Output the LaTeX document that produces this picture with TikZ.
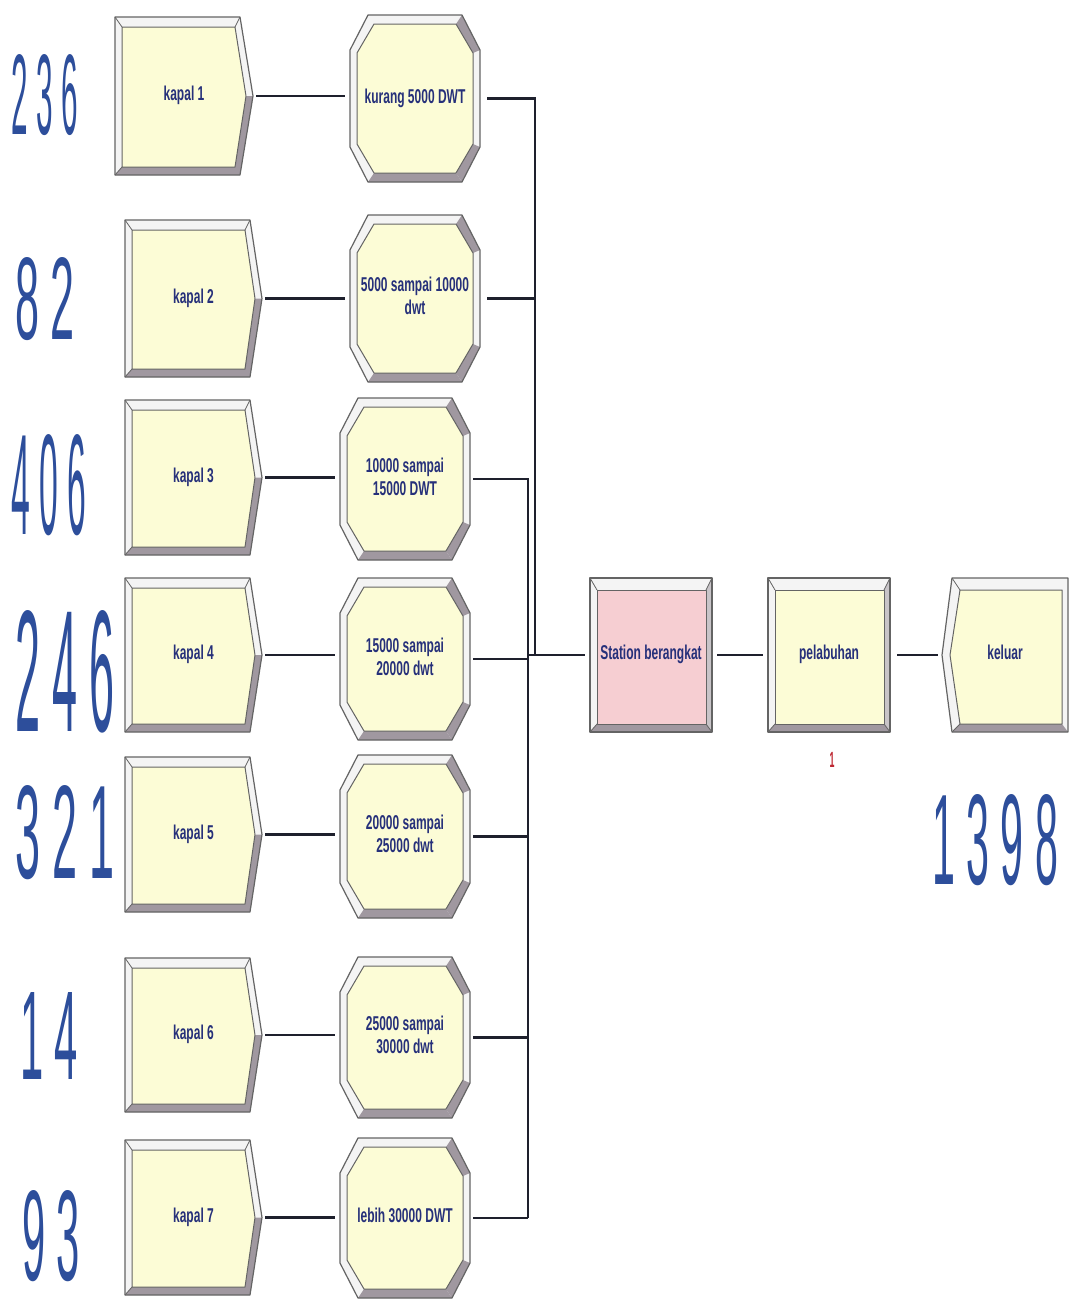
\documentclass[tikz,border=0pt]{standalone}
\usepackage{fontspec}
\setmainfont{Liberation Sans}
\usepackage{graphicx}
\usetikzlibrary{calc}

\definecolor{boxfill}{RGB}{252,252,214}
\definecolor{pinkfill}{RGB}{246,206,210}
\definecolor{bevlightc}{RGB}{244,244,244}
\definecolor{bevmidc}{RGB}{200,196,200}
\definecolor{bevdarkc}{RGB}{160,152,160}
\definecolor{outlinec}{RGB}{100,100,100}
\definecolor{txtc}{RGB}{38,48,122}
\definecolor{numc}{RGB}{45,78,155}
\definecolor{linec}{RGB}{30,32,45}
\definecolor{redc}{RGB}{190,40,50}

\tikzset{
  outline/.style={draw=outlinec, line width=1.2pt, line join=round},
  thinline/.style={draw=outlinec, line width=0.8pt},
  bevlight/.style={fill=bevlightc},
  bevmid/.style={fill=bevmidc},
  bevdark/.style={fill=bevdarkc},
  innerface/.style={draw=outlinec, line width=1pt, line join=round},
  holder/.style={inner sep=0pt, outer sep=0pt, draw=none, text=txtc,
    font=\fontsize{20}{23}\selectfont\bfseries},
  conn/.style={draw=linec, line width=2.2pt},
  count/.style={inner sep=0pt, outer sep=0pt, text=numc, font=\fontsize{100}{100}\selectfont},
  redlbl/.style={inner sep=0pt, text=redc, font=\fontsize{22}{22}\selectfont\bfseries},
}

\newcommand\lbl[1]{\scalebox{0.6}[1]{\begin{tabular}{@{}c@{}}#1\end{tabular}}}

% create module: name, L, T, R, B, tip, text
\newcommand\kapalmod[7]{%
  \fill[bevlight] (#2,#3) -- (#4,#3) -- (#6,{(#3+#5)/2}) -- (#4,#5) -- (#2,#5) -- cycle;
  \fill[bevdark] (#2,#5) -- (#4,#5) -- (#6,{(#3+#5)/2}) -- ({#6-7},{(#3+#5)/2}) -- ({#4-5},{#5-8}) -- ({#2+7},{#5-8}) -- cycle;
  \filldraw[innerface, fill=boxfill] ({#2+7},{#3+10}) -- ({#4-5},{#3+10}) -- ({#6-7},{(#3+#5)/2}) -- ({#4-5},{#5-8}) -- ({#2+7},{#5-8}) -- cycle;
  \draw[outline] (#2,#3) -- (#4,#3) -- (#6,{(#3+#5)/2}) -- (#4,#5) -- (#2,#5) -- cycle;
  \draw[thinline] (#2,#3) -- ({#2+7},{#3+10}) (#2,#5) -- ({#2+7},{#5-8}) (#4,#3) -- ({#4-5},{#3+10});
  \node[holder, minimum width={#6-#2}, minimum height={#5-#3}] (#1) at ({(#2+#6)/2},{(#3+#5)/2}) {\lbl{#7}};
}

% decide module: name, L, T, R, B, text
\newcommand\decidemod[6]{%
  \fill[bevlight] ({#2+18},#3) -- ({#4-18},#3) -- (#4,{#3+35}) -- (#4,{#5-35}) -- ({#4-18},#5) -- ({#2+18},#5) -- (#2,{#5-35}) -- (#2,{#3+35}) -- cycle;
  \fill[bevdark] ({#2+18},#5) -- ({#4-18},#5) -- ({#4-24},{#5-9}) -- ({#2+24},{#5-9}) -- cycle;
  \fill[bevdark] ({#4-18},#3) -- (#4,{#3+35}) -- ({#4-7},{#3+38}) -- ({#4-24},{#3+9}) -- cycle;
  \fill[bevdark] (#4,{#5-35}) -- ({#4-18},#5) -- ({#4-24},{#5-9}) -- ({#4-7},{#5-38}) -- cycle;
  \filldraw[innerface, fill=boxfill] ({#2+24},{#3+9}) -- ({#4-24},{#3+9}) -- ({#4-7},{#3+38}) -- ({#4-7},{#5-38}) -- ({#4-24},{#5-9}) -- ({#2+24},{#5-9}) -- ({#2+7},{#5-38}) -- ({#2+7},{#3+38}) -- cycle;
  \draw[outline] ({#2+18},#3) -- ({#4-18},#3) -- (#4,{#3+35}) -- (#4,{#5-35}) -- ({#4-18},#5) -- ({#2+18},#5) -- (#2,{#5-35}) -- (#2,{#3+35}) -- cycle;
  \node[holder, minimum width={#4-#2}, minimum height={#5-#3}] (#1) at ({(#2+#4)/2},{(#3+#5)/2}) {\lbl{#6}};
}

% process module: name, L, T, R, B, fill, text
\newcommand\procmod[7]{%
  \fill[bevlight] (#2,#3) rectangle (#4,#5);
  \fill[bevmid] (#4,#3) -- (#4,#5) -- ({#4-6},{#5-8}) -- ({#4-6},{#3+12}) -- cycle;
  \fill[bevdark] (#2,#5) -- (#4,#5) -- ({#4-6},{#5-8}) -- ({#2+7},{#5-8}) -- cycle;
  \filldraw[innerface, fill=#6] ({#2+7},{#3+12}) rectangle ({#4-6},{#5-8});
  \draw[outline] (#2,#3) rectangle (#4,#5);
  \draw[thinline] (#2,#3) -- ({#2+7},{#3+12}) (#4,#3) -- ({#4-6},{#3+12}) (#2,#5) -- ({#2+7},{#5-8}) (#4,#5) -- ({#4-6},{#5-8});
  \node[holder, minimum width={#4-#2}, minimum height={#5-#3}] (#1) at ({(#2+#4)/2},{(#3+#5)/2}) {\lbl{#7}};
}

% dispose module: name, tipL, T, R, B, text
\newcommand\disposemod[6]{%
  \fill[bevlight] ({#2+10},#3) -- (#4,#3) -- (#4,#5) -- ({#2+10},#5) -- (#2,{(#3+#5)/2}) -- cycle;
  \fill[bevdark] ({#2+10},#5) -- (#4,#5) -- ({#4-6},{#5-8}) -- ({#2+18},{#5-8}) -- cycle;
  \filldraw[innerface, fill=boxfill] ({#2+18},{#3+12}) -- ({#4-6},{#3+12}) -- ({#4-6},{#5-8}) -- ({#2+18},{#5-8}) -- ({#2+8},{(#3+#5)/2}) -- cycle;
  \draw[outline] ({#2+10},#3) -- (#4,#3) -- (#4,#5) -- ({#2+10},#5) -- (#2,{(#3+#5)/2}) -- cycle;
  \draw[thinline] ({#2+10},#3) -- ({#2+18},{#3+12}) ({#2+10},#5) -- ({#2+18},{#5-8});
  \node[holder, minimum width={#4-#2}, minimum height={#5-#3}] (#1) at ({(#2+#4)/2},{(#3+#5)/2}) {\lbl{#6}};
}

\begin{document}
\begin{tikzpicture}[x=1pt, y=-1pt]
  \fill[white] (0,0) rectangle (1071,1299);
  \useasboundingbox (0,0) rectangle (1071,1299);

  % create modules
  \kapalmod{k1}{115}{17}{240}{175}{253}{kapal 1}
  \kapalmod{k2}{125}{220}{250}{377}{262}{kapal 2}
  \kapalmod{k3}{125}{400}{250}{555}{262}{kapal 3}
  \kapalmod{k4}{125}{578}{250}{732}{262}{kapal 4}
  \kapalmod{k5}{125}{757}{250}{912}{262}{kapal 5}
  \kapalmod{k6}{125}{958}{250}{1112}{262}{kapal 6}
  \kapalmod{k7}{125}{1140}{250}{1295}{262}{kapal 7}

  % decide modules
  \decidemod{d1}{350}{15}{480}{182}{kurang 5000 DWT}
  \decidemod{d2}{350}{215}{480}{382}{5000 sampai 10000\\dwt}
  \decidemod{d3}{340}{398}{470}{560}{10000 sampai\\15000 DWT}
  \decidemod{d4}{340}{578}{470}{740}{15000 sampai\\20000 dwt}
  \decidemod{d5}{340}{755}{470}{918}{20000 sampai\\25000 dwt}
  \decidemod{d6}{340}{957}{470}{1118}{25000 sampai\\30000 dwt}
  \decidemod{d7}{340}{1138}{470}{1298}{lebih 30000 DWT}

  % station, process, dispose
  \procmod{st}{590}{578}{712}{732}{pinkfill}{Station berangkat}
  \procmod{pl}{768}{578}{890}{732}{boxfill}{pelabuhan}
  \disposemod{kl}{942}{578}{1068}{732}{keluar}

  % counters
  \node[count] (n1) at (45,95) {\resizebox{66pt}{80pt}{2 3 6}};
  \node[count] (n2) at (45,299) {\resizebox{60pt}{82pt}{8 2}};
  \node[count] (n3) at (49,485) {\resizebox{75pt}{100pt}{4 0 6}};
  \node[count] (n4) at (65,672) {\resizebox{100pt}{121pt}{2 4 6}};
  \node[count] (n5) at (65,833) {\resizebox{100pt}{93pt}{3 2 1}};
  \node[count] (n6) at (49,1036) {\resizebox{58pt}{87pt}{1 4}};
  \node[count] (n7) at (51,1236) {\resizebox{58pt}{90pt}{9 3}};
  \node[count] (n8) at (995,840) {\resizebox{126pt}{90pt}{1 3 9 8}};
  \node[redlbl] (r1) at (832,760) {\scalebox{0.4}[1]{1}};

  % connectors create -> decide
  \foreach \i in {1,...,7} {
    \draw[conn, shorten <=3pt, shorten >=5pt] (k\i.east) -- (d\i.west |- k\i.east);
  }

  % bus
  \coordinate (jA) at (535,0);
  \coordinate (jB) at (528,0);
  \draw[conn, shorten <=7pt] (d1.east) -- (d1.east -| jA) -- (st.west -| jA);
  \draw[conn, shorten <=7pt] (d2.east) -- (d2.east -| jA);
  \draw[conn, shorten <=3pt] (d3.east) -- (d3.east -| jB) -- (d7.east -| jB);
  \foreach \i in {4,...,7} {
    \draw[conn, shorten <=3pt] (d\i.east) -- (d\i.east -| jB);
  }
  \draw[conn, shorten >=5pt] (st.west -| jB) -- (st.west);

  % chain
  \draw[conn, shorten <=5pt, shorten >=5pt] (st.east) -- (pl.west);
  \draw[conn, shorten <=7pt, shorten >=4pt] (pl.east) -- (kl.west);
\end{tikzpicture}
\end{document}
